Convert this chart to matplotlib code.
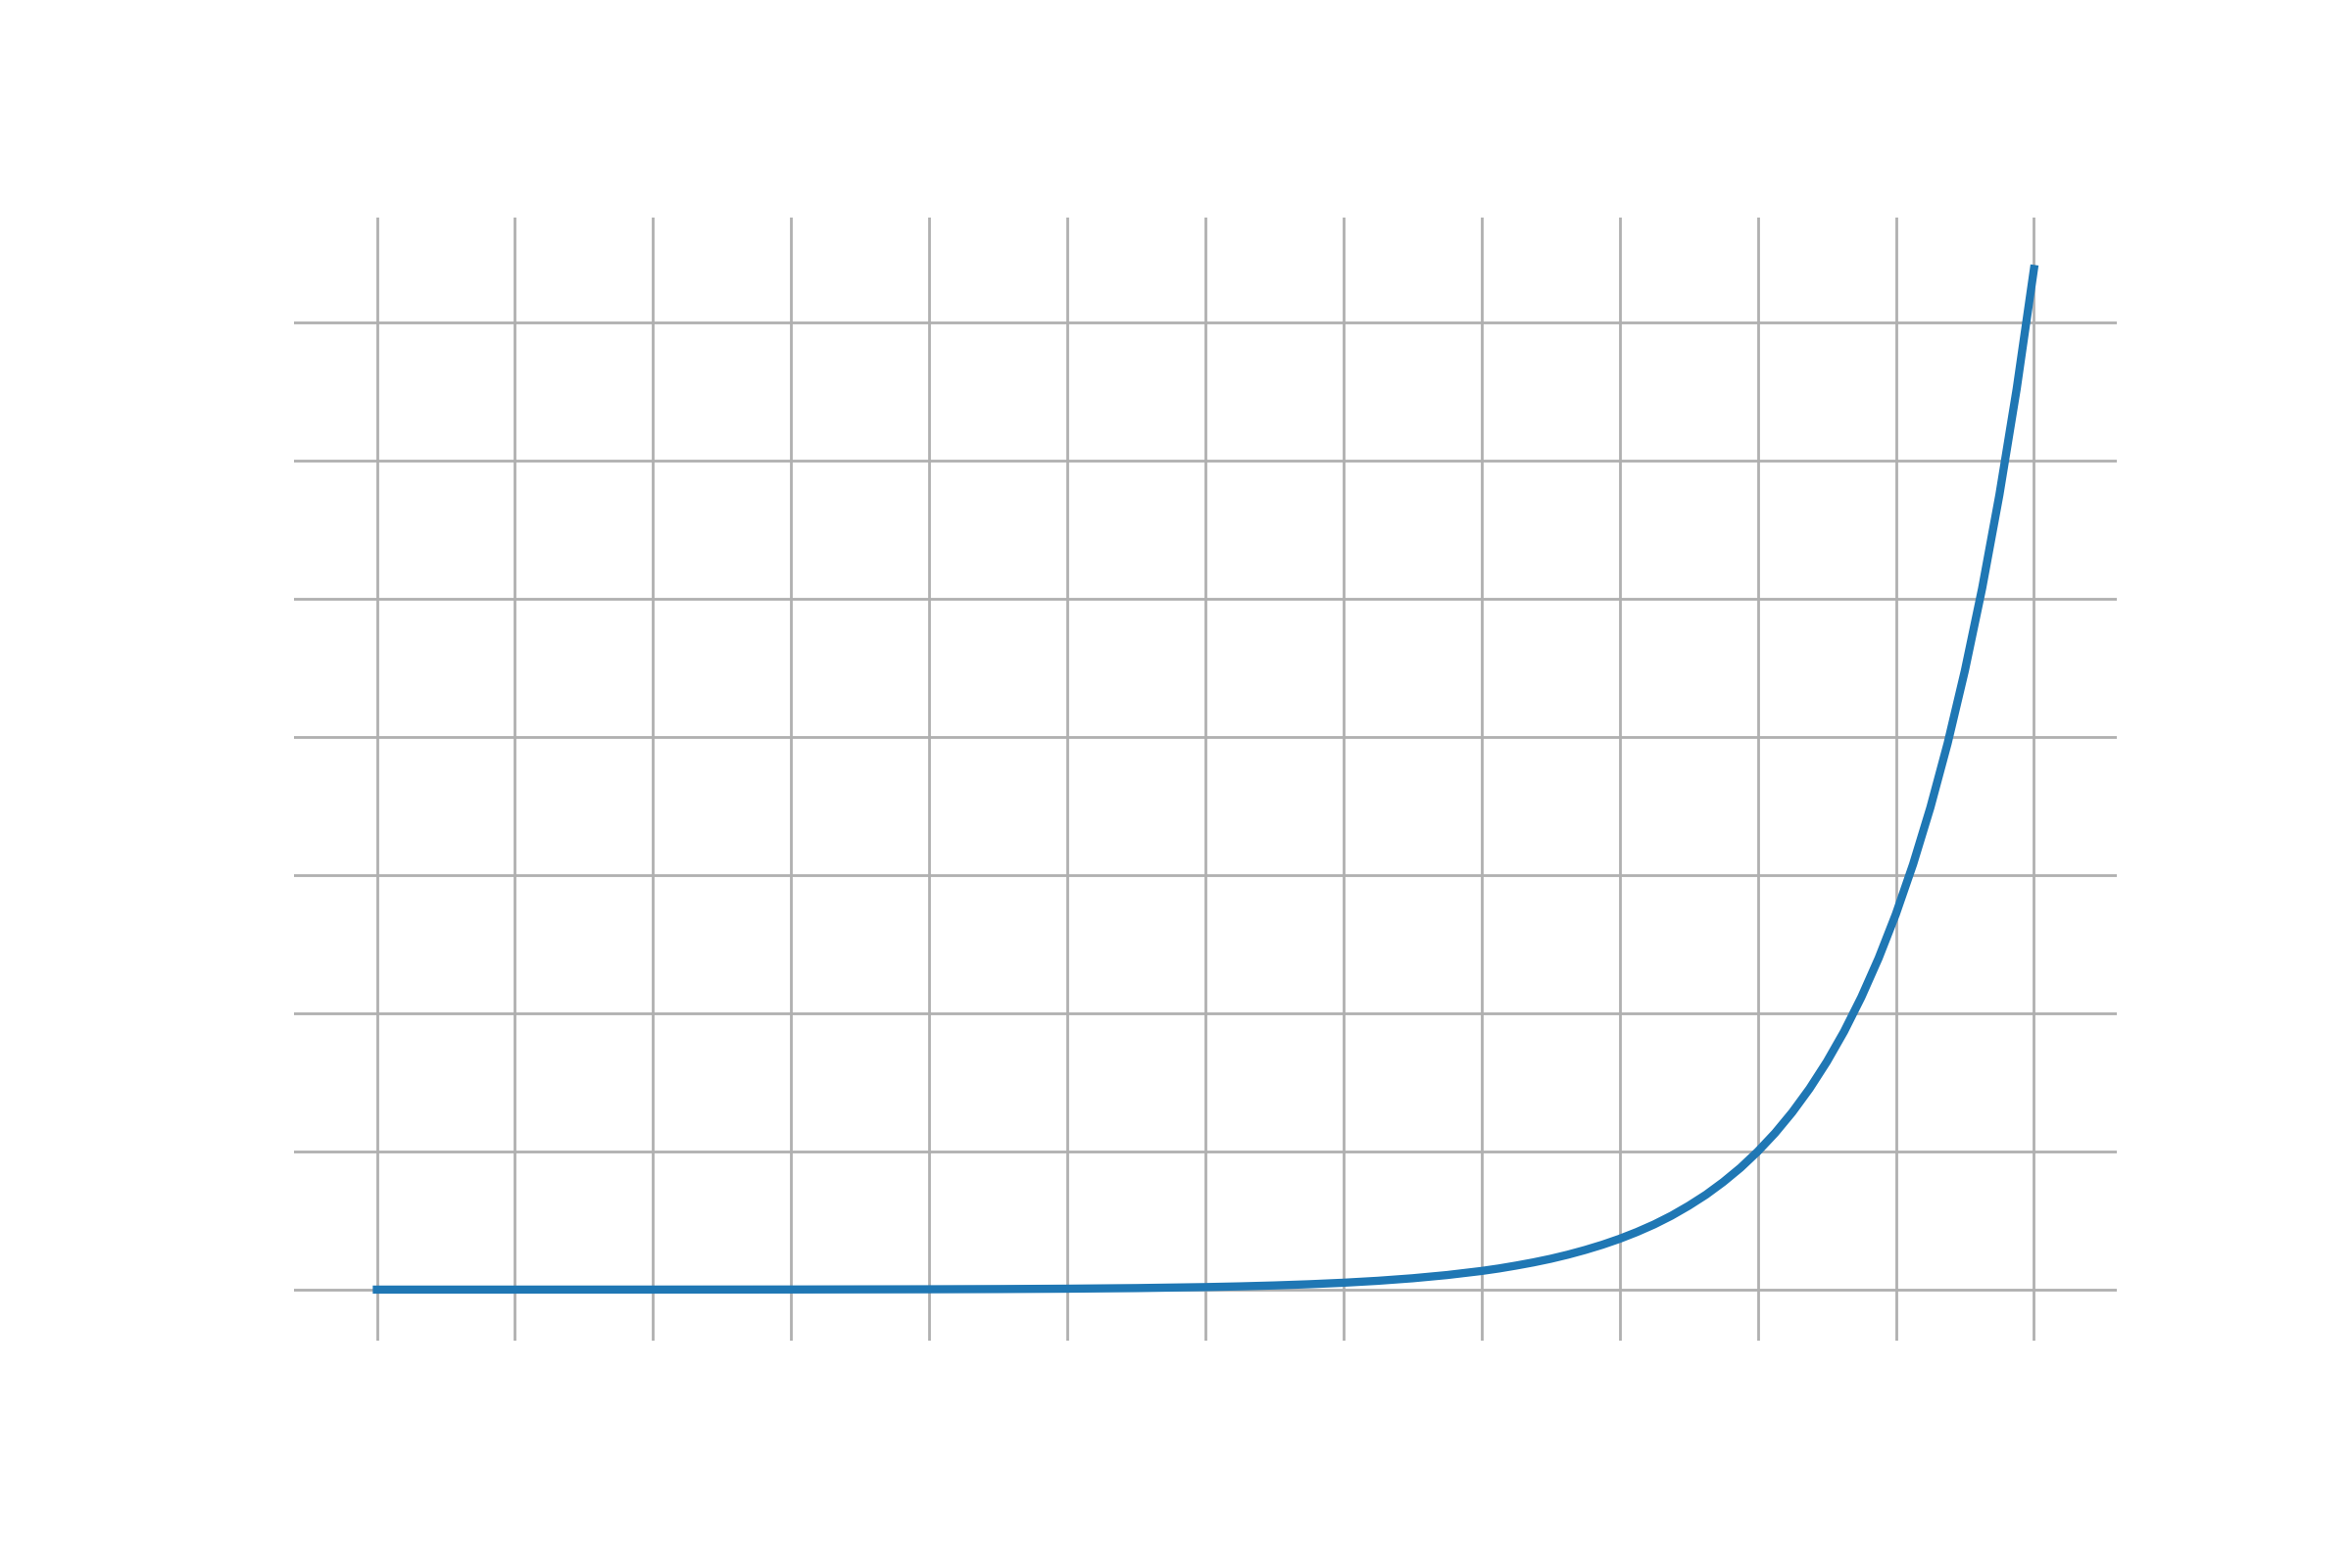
import matplotlib
matplotlib.use("Agg")
import matplotlib.pyplot as plt

# values
x_vals = [-10, -9, -8, -7, -6, -5.5, -5, -4.5, -4, -3.75, -3.5, -3.25, -3, -2.75, -2.5, -2.25,
          -2, -1.875, -1.75, -1.625, -1.5, -1.375, -1.25, -1.125,
          -1, -0.875, -0.75, -0.625, -0.5, -0.375, -0.25, -0.125,
          0, 0.125, 0.25, 0.375, 0.5, 0.625, 0.75, 0.875,
          1, 1.125, 1.25, 1.375, 1.5, 1.625, 1.75, 1.875, 2]
y_vals = [0.0000, 0.0001, 0.0003, 0.0009, 0.0025, 0.0041, 0.0067, 0.0111, 0.0183, 0.0235, 0.0302, 0.0388,
          0.0498, 0.0639, 0.0821, 0.1054,
          0.135, 0.153, 0.174, 0.197, 0.223, 0.253, 0.287, 0.325,
          0.368, 0.417, 0.472, 0.535, 0.607, 0.687, 0.779, 0.882,
          1.000, 1.133, 1.284, 1.455, 1.649, 1.868, 2.117, 2.399,
          2.718, 3.080, 3.490, 3.955, 4.482, 5.078, 5.755, 6.521, 7.389]
x_ticks = list(range(-10, 3))
y_ticks = list(range(0, 8))

fig = plt.figure(figsize=(12, 8), dpi=200)
ax = fig.add_axes([0.125, 0.145, 0.775, 0.716])

ax.plot(x_vals, y_vals, color='#1f77b4', linewidth=3, solid_capstyle='projecting')

ax.set_xticks(x_ticks)
ax.set_yticks(y_ticks)
ax.grid(True, color='#b0b0b0', linewidth=1.0)
ax.set_axisbelow(True)
ax.tick_params(length=0, labelbottom=False, labelleft=False)
for s in ax.spines.values():
    s.set_visible(False)

fig.savefig('out.png', dpi=200)
